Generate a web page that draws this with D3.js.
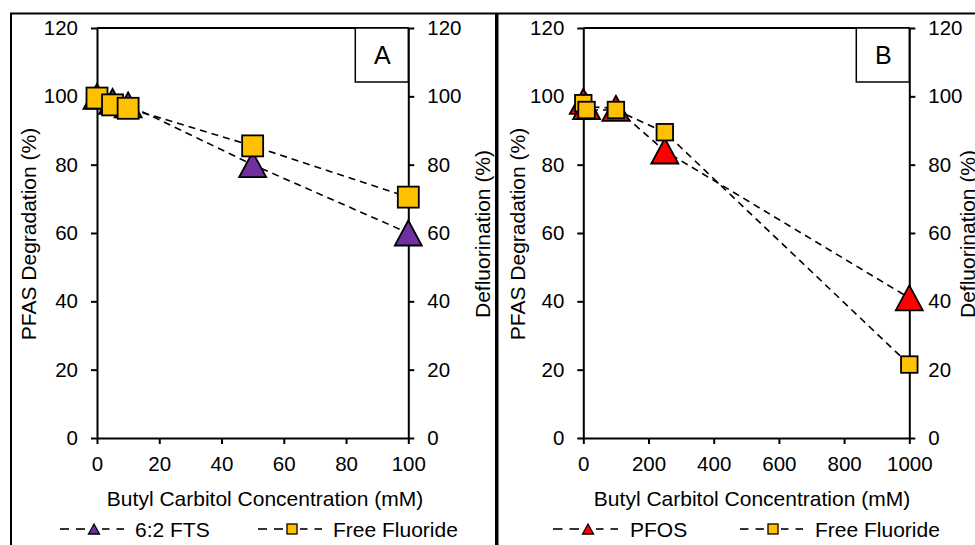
<!DOCTYPE html>
<html>
<head>
<meta charset="utf-8">
<script src="https://cdn.jsdelivr.net/npm/d3@7"></script>
<style>
  body { margin: 0; background: #fff; }
  svg { display: block; font-family: "Liberation Sans", Arial, sans-serif; }
</style>
</head>
<body>
<svg id="chart" width="975" height="545"></svg>
<script>
// Shared y ticks (both axes, both panels)
const yTicks = [0, 20, 40, 60, 80, 100, 120];

// Panel A: 6:2 FTS
const concA = [0, 5, 10, 50, 100];
const ftsA = [100, 98.5, 97.5, 80, 60];
const fluorideA = [99.5, 97.5, 96.5, 85.5, 70.5];
const xTicksA = [0, 20, 40, 60, 80, 100];

// Panel B: PFOS
const concB = [0, 10, 100, 250, 1000];
const pfosB = [98.5, 97, 96.5, 84, 41];
const fluorideB = [98, 96, 96, 89.5, 21.5];
const xTicksB = [0, 200, 400, 600, 800, 1000];

const xTitle = "Butyl Carbitol Concentration (mM)";
const yTitleLeft = "PFAS Degradation (%)";
const yTitleRight = "Defluorination (%)";

const svg = d3.select("#chart");
const FONT = 21, TICKFONT = 20.5;

const panels = [
  {
    letter: "A", frameX: 11, frameW: 485,
    x0: 97, x1: 408.3, xMax: 100, xTicks: xTicksA, conc: concA,
    s1: { name: "6:2 FTS", values: ftsA, color: "#7030A0" },
    s2: { name: "Free Fluoride", values: fluorideA, color: "#FFC000", size: 21 },
    xTitleX: 265, leftTitleX: 28.5, rightTitleX: 482,
    legend: { d1: [60, 124], m1: 94, t1: 135, d2: [258, 322], m2: 292, t2: 333 }
  },
  {
    letter: "B", frameX: 497.5, frameW: 490,
    x0: 583.3, x1: 909.3, xMax: 1000, xTicks: xTicksB, conc: concB,
    s1: { name: "PFOS", values: pfosB, color: "#FF0000" },
    s2: { name: "Free Fluoride", values: fluorideB, color: "#FFC000", size: 16.5 },
    xTitleX: 752, leftTitleX: 517, rightTitleX: 967,
    legend: { d1: [553, 618], m1: 588, t1: 630, d2: [740, 803], m2: 773, t2: 815 }
  }
];

const yTop = 28, yBottom = 438;
const fmt = d3.format("d");

function triPath(w, h) {
  return `M0,${-h / 2}L${w / 2},${h / 2}L${-w / 2},${h / 2}Z`;
}

panels.forEach(p => {
  const g = svg.append("g");

  // panel frame
  g.append("rect")
    .attr("x", p.frameX).attr("y", 13.5)
    .attr("width", p.frameW).attr("height", 560)
    .attr("fill", "none").attr("stroke", "#000").attr("stroke-width", 2);

  const x = d3.scaleLinear().domain([0, p.xMax]).range([p.x0, p.x1]);
  const y = d3.scaleLinear().domain([0, 120]).range([yBottom, yTop]);

  // top edge of plot area
  g.append("line")
    .attr("x1", p.x0).attr("x2", p.x1).attr("y1", yTop).attr("y2", yTop)
    .attr("stroke", "#000").attr("stroke-width", 2);

  const styleAxis = sel => {
    sel.selectAll("path.domain").attr("stroke", "#000").attr("stroke-width", 2);
    sel.selectAll(".tick line").attr("stroke", "#000").attr("stroke-width", 2);
    sel.selectAll(".tick text").attr("font-size", TICKFONT).attr("fill", "#000")
      .attr("font-family", "Liberation Sans, Arial, sans-serif");
  };

  g.append("g").attr("transform", `translate(${p.x0},0)`)
    .call(d3.axisLeft(y).tickValues(yTicks).tickFormat(fmt).tickSize(6).tickSizeOuter(0).tickPadding(13))
    .call(styleAxis);
  g.append("g").attr("transform", `translate(${p.x1},0)`)
    .call(d3.axisRight(y).tickValues(yTicks).tickFormat(fmt).tickSize(6).tickSizeOuter(0).tickPadding(13))
    .call(styleAxis);
  g.append("g").attr("transform", `translate(0,${yBottom})`)
    .call(d3.axisBottom(x).tickValues(p.xTicks).tickFormat(fmt).tickSize(6).tickSizeOuter(0).tickPadding(12))
    .call(styleAxis);

  // panel letter box
  g.append("rect")
    .attr("x", p.x1 - 53).attr("y", yTop)
    .attr("width", 53).attr("height", 54)
    .attr("fill", "#fff").attr("stroke", "#000").attr("stroke-width", 1.5);
  g.append("text")
    .attr("x", p.x1 - 26).attr("y", yTop + 27)
    .attr("text-anchor", "middle").attr("dominant-baseline", "central")
    .attr("font-size", 25).text(p.letter);

  // axis titles
  g.append("text")
    .attr("x", p.xTitleX).attr("y", 498)
    .attr("text-anchor", "middle").attr("dominant-baseline", "central")
    .attr("font-size", FONT).text(xTitle);
  g.append("text")
    .attr("transform", `translate(${p.leftTitleX},234) rotate(-90)`)
    .attr("text-anchor", "middle").attr("dominant-baseline", "central")
    .attr("font-size", FONT).text(yTitleLeft);
  g.append("text")
    .attr("transform", `translate(${p.rightTitleX},234) rotate(-90)`)
    .attr("text-anchor", "middle").attr("dominant-baseline", "central")
    .attr("font-size", FONT).text(yTitleRight);

  const line = d3.line().x(d => x(d[0])).y(d => y(d[1]));

  // series 1: triangles
  const d1 = p.conc.map((c, i) => [c, p.s1.values[i]]);
  g.append("path").datum(d1).attr("d", line)
    .attr("fill", "none").attr("stroke", "#000").attr("stroke-width", 1.6)
    .attr("stroke-dasharray", "7,5");
  g.selectAll(null).data(d1).enter().append("path")
    .attr("transform", d => `translate(${x(d[0])},${y(d[1])})`)
    .attr("d", triPath(27, 25))
    .attr("fill", p.s1.color).attr("stroke", "#000").attr("stroke-width", 1.8)
    .attr("stroke-linejoin", "miter");

  // series 2: squares
  const d2 = p.conc.map((c, i) => [c, p.s2.values[i]]);
  g.append("path").datum(d2).attr("d", line)
    .attr("fill", "none").attr("stroke", "#000").attr("stroke-width", 1.6)
    .attr("stroke-dasharray", "7,5");
  const s = p.s2.size;
  g.selectAll(null).data(d2).enter().append("rect")
    .attr("x", d => x(d[0]) - s / 2).attr("y", d => y(d[1]) - s / 2)
    .attr("width", s).attr("height", s)
    .attr("fill", p.s2.color).attr("stroke", "#000").attr("stroke-width", 1.8);

  // legend: two dashes on each side of the marker
  const ly = 529, L = p.legend;
  const dashes = (a, b) => {
    const w = (b - a - 7) / 2;
    [a, a + w + 7].forEach(s0 => g.append("line")
      .attr("x1", s0).attr("x2", s0 + w).attr("y1", ly).attr("y2", ly)
      .attr("stroke", "#000").attr("stroke-width", 1.6));
  };
  dashes(L.d1[0], L.m1 - 9); dashes(L.m1 + 8, L.d1[1]);
  g.append("path").attr("transform", `translate(${L.m1},${ly})`)
    .attr("d", triPath(11, 10)).attr("fill", p.s1.color)
    .attr("stroke", "#000").attr("stroke-width", 1.3);
  g.append("text").attr("x", L.t1).attr("y", ly)
    .attr("dominant-baseline", "central").attr("font-size", FONT).text(p.s1.name);

  dashes(L.d2[0], L.m2 - 9); dashes(L.m2 + 8, L.d2[1]);
  g.append("rect").attr("x", L.m2 - 5).attr("y", ly - 5)
    .attr("width", 10).attr("height", 10).attr("fill", p.s2.color)
    .attr("stroke", "#000").attr("stroke-width", 1.3);
  g.append("text").attr("x", L.t2).attr("y", ly)
    .attr("dominant-baseline", "central").attr("font-size", FONT).text(p.s2.name);
});
</script>
</body>
</html>
